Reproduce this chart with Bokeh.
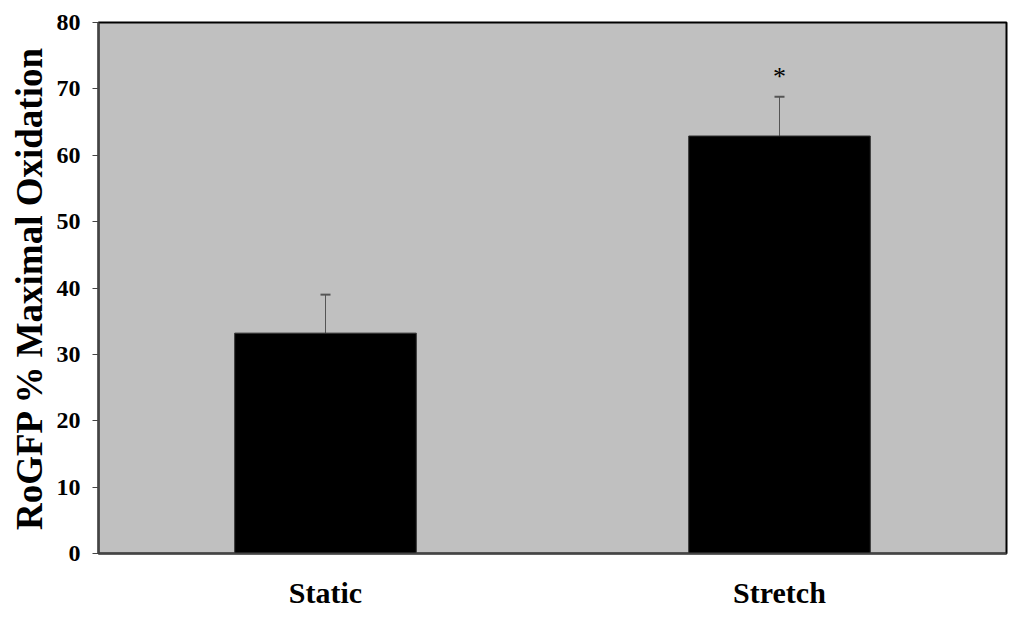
from bokeh.plotting import figure
from bokeh.models import ColumnDataSource, Whisker, TeeHead, FixedTicker, Range1d
from bokeh.embed import file_html
from bokeh.resources import INLINE
from bokeh.core.properties import value

categories = ["Static", "Stretch"]
positions = [1, 3]
means = [33.2, 62.9]
errors = [5.8, 5.9]
y_ticks = [0, 10, 20, 30, 40, 50, 60, 70, 80]

upper = [m + e for m, e in zip(means, errors)]
src = ColumnDataSource(dict(x=positions, top=means, upper=upper, cat=categories))

p = figure(width=1016, height=611, output_backend="svg", toolbar_location=None,
           x_range=Range1d(0, 4), y_range=Range1d(0, 80),
           min_border_left=98, min_border_right=10, min_border_top=22, min_border_bottom=58)
p.background_fill_color = "#c0c0c0"
p.border_fill_color = "white"
p.outline_line_color = "black"
p.outline_line_width = 2
p.grid.visible = False

p.vbar(x="x", top="top", bottom=0, width=0.8, source=src, fill_color="black", line_color="#333333")
w = Whisker(source=src, base="x", lower="top", upper="upper", line_color="#555555", line_width=1,
            upper_head=TeeHead(size=10, line_color="#555555", line_width=2), lower_head=None)
p.add_layout(w)
sig = ColumnDataSource(dict(x=[positions[1]], y=[upper[1]], t=["*"]))
p.text(x="x", y="y", text="t", source=sig, text_align="center", text_baseline="bottom",
       y_offset=-6, text_font=value("Liberation Serif"), text_font_size="26px", text_color="black")

p.yaxis.ticker = FixedTicker(ticks=y_ticks)
p.yaxis.axis_label = "RoGFP % Maximal Oxidation"
p.yaxis.axis_label_text_font = "Liberation Serif"
p.yaxis.axis_label_text_font_style = "bold"
p.yaxis.axis_label_text_font_size = "37px"
p.yaxis.axis_label_text_color = "black"
p.yaxis.axis_label_standoff = 4
p.yaxis.major_label_text_font = "Liberation Serif"
p.yaxis.major_label_text_font_style = "bold"
p.yaxis.major_label_text_font_size = "24px"
p.yaxis.major_label_text_color = "black"
p.yaxis.major_label_standoff = 12
p.yaxis.major_tick_out = 6
p.yaxis.major_tick_in = 0
p.yaxis.minor_tick_line_color = None
p.yaxis.axis_line_color = "#444444"
p.yaxis.axis_line_width = 2
p.yaxis.major_tick_line_color = "#444444"

p.xaxis.ticker = FixedTicker(ticks=positions)
p.xaxis.major_label_overrides = {pos: c for pos, c in zip(positions, categories)}
p.xaxis.major_label_text_font = "Liberation Serif"
p.xaxis.major_label_text_font_style = "bold"
p.xaxis.major_label_text_font_size = "30px"
p.xaxis.major_label_text_color = "black"
p.xaxis.major_label_standoff = 22
p.xaxis.major_tick_out = 0
p.xaxis.major_tick_in = 0
p.xaxis.minor_tick_line_color = None
p.xaxis.axis_line_color = "#444444"
p.xaxis.axis_line_width = 2

open("out.html", "w").write(file_html(p, INLINE))
